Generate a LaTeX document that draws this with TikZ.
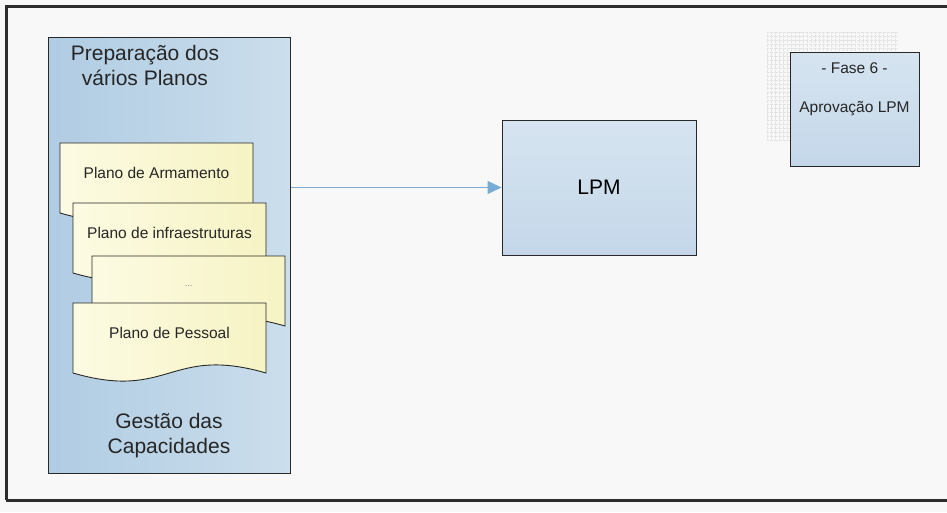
\documentclass[tikz,border=0pt]{standalone}
\usepackage{fontspec}
\setmainfont{Liberation Sans}
\usetikzlibrary{arrows.meta}
\definecolor{bgc}{RGB}{248,248,248}
\definecolor{framec}{RGB}{45,45,45}
\definecolor{contL}{RGB}{176,204,227}
\definecolor{contR}{RGB}{203,222,236}
\definecolor{boxT}{RGB}{214,228,240}
\definecolor{boxB}{RGB}{196,215,233}
\definecolor{docL}{RGB}{252,251,226}
\definecolor{docR}{RGB}{246,243,196}
\definecolor{arrc}{RGB}{120,172,212}
\definecolor{linec}{RGB}{40,40,40}
\tikzset{
  container/.style={draw=linec, line width=0.9pt, left color=contL, right color=contR, minimum width=242pt, minimum height=436pt, inner sep=0pt},
  bluebox/.style={draw=linec, line width=0.9pt, top color=boxT, bottom color=boxB, inner sep=0pt},
  docstyle/.style={draw=linec, line width=0.9pt, left color=docL, right color=docR},
  doctext/.style={font=\fontsize{15.5}{18}\selectfont, text=black!85},
  bigtext/.style={font=\fontsize{21}{25}\selectfont, text=black!85, align=center},
  arr/.style={draw=arrc, line width=0.9pt, -{Triangle[length=14pt,width=13pt]}},
  gridline/.style={draw=gray!22, line width=0.3pt, densely dotted}
}
\newcommand\docshape[4]{%
  \path[docstyle] (#1,#2) -- ({#1+193},#2) -- ({#1+193},{#2+70})
    .. controls ({#1+96.5},{#2+42}) and ({#1+96.5},{#2+98}) .. (#1,{#2+70}) -- cycle;
  \node[doctext] (#3) at ({#1+96.5},{#2+30}) {#4};
}
\begin{document}
\begin{tikzpicture}[x=1pt,y=-1pt]
\clip (0,0) rectangle (947,512);
\fill[bgc] (0,0) rectangle (947,512);
% frame
\draw[framec, line width=3pt] (6,500) -- (6,6) -- (960,6);
\draw[framec, line width=3pt] (6,500) -- (960,500);
% faint grid behind phase box
\foreach \i in {767,771,...,897} \draw[gridline] (\i,32) -- (\i,140);
\foreach \j in {32,36,...,140} \draw[gridline] (767,\j) -- (897,\j);
% container
\node[container, anchor=north west] (cont) at (48,37) {};
\node[bigtext] (prep) at (145,65) {Preparação dos\\vários Planos};
\node[bigtext] (gest) at (169,436) {Gestão das\\Capacidades};
% documents
\docshape{60}{143}{d1}{Plano de Armamento}
\docshape{73}{203}{d2}{Plano de infraestruturas}
\docshape{92}{256}{d3}{\textcolor{gray}{\fontsize{9}{10}\selectfont ...}}
\docshape{73}{303}{d4}{Plano de Pessoal}
% LPM box
\node[bluebox, minimum width=194pt, minimum height=135pt, font=\fontsize{21}{25}\selectfont] (lpm) at (599,187.5) {LPM};
% Fase 6 box
\node[bluebox, minimum width=129pt, minimum height=114pt] (fase) at (854.5,109) {};
\node[doctext] (fasel) at (854.5,68) {- Fase 6 -};
\node[doctext] (aprov) at (854.5,109) {Aprovação LPM};
% arrow
\draw[arr] (cont.east |- lpm.west) -- (lpm.west);
\end{tikzpicture}
\end{document}
